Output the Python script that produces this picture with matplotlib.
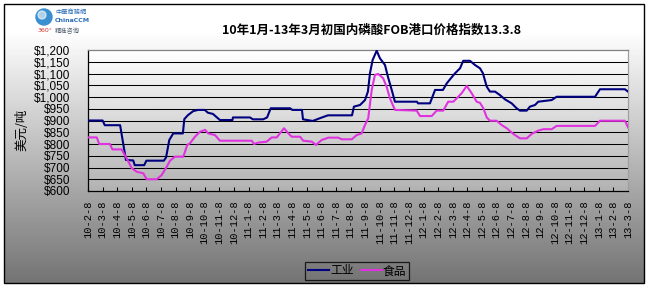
import matplotlib
matplotlib.use('Agg')
import matplotlib.pyplot as plt
from matplotlib.patches import Rectangle, Circle
import numpy as np

# month index: 0 = 10-2-8 ... 37 = 13-3-8
MONTH_LABELS = ['10-2-8', '10-3-8', '10-4-8', '10-5-8', '10-6-8', '10-7-8',
                '10-8-8', '10-9-8', '10-10-8', '10-11-8', '10-12-8',
                '11-1-8', '11-2-8', '11-3-8', '11-4-8', '11-5-8', '11-6-8',
                '11-7-8', '11-8-8', '11-9-8', '11-10-8', '11-11-8', '11-12-8',
                '12-1-8', '12-2-8', '12-3-8', '12-4-8', '12-5-8', '12-6-8',
                '12-7-8', '12-8-8', '12-9-8', '12-10-8', '12-11-8', '12-12-8',
                '13-1-8', '13-2-8', '13-3-8']

Y_TICKS = [600, 650, 700, 750, 800, 850, 900, 950, 1000, 1050, 1100, 1150, 1200]

# 工业 (industrial grade)
gy_x = [0, 1.0, 1.15, 2.2, 2.6, 3.1, 3.2, 3.85, 4.0, 5.2, 5.35, 5.57, 5.84,
        6.5, 6.6, 6.85, 7.21, 7.54, 8.0, 8.22, 8.56, 9.04, 9.9, 9.93, 11.1,
        11.3, 12.0, 12.27, 12.52, 13.85, 14.0, 14.66, 14.73, 15.4, 15.9,
        16.44, 18.09, 18.22, 18.64, 18.98, 19.18, 19.32, 19.5, 19.78, 20.0,
        20.35, 20.55, 20.81, 21.03, 22.54, 22.61, 23.43, 23.78, 24.32, 24.58,
        24.8, 25.15, 25.49, 25.71, 26.17, 26.52, 26.86, 27.06, 27.32, 27.54,
        27.89, 28.23, 28.57, 29.03, 29.37, 29.6, 30.06, 30.28, 30.63, 30.85,
        31.77, 32.11, 34.74, 35.08, 36.79, 37]
gy_v = [900, 900, 880, 880, 732, 730, 710, 710, 729, 729, 743, 817, 845,
        845, 906, 923, 940, 945, 945, 933, 928, 902, 902, 913, 913,
        905, 905, 913, 952, 952, 945, 945, 905, 898, 910,
        922, 922, 959, 966, 987, 1023, 1101, 1157, 1197, 1165,
        1136, 1086, 1030, 980, 980, 973, 973, 1030, 1030, 1058,
        1075, 1101, 1122, 1154, 1154, 1136, 1122, 1101, 1044, 1023,
        1023, 1008, 990, 973, 952, 942, 942, 959, 966, 980,
        987, 1001, 1001, 1033, 1033, 1023]

# 食品 (food grade)
sp_x = [0, 0.6, 0.77, 1.5, 1.67, 2.3, 2.65, 3.0, 3.34, 3.79, 4.02, 4.71,
        5.05, 5.39, 5.62, 5.96, 6.53, 6.8, 6.99, 7.33, 7.67, 8.02, 8.24, 8.7,
        9.04, 11.22, 11.37, 11.67, 12.24, 12.59, 12.93, 13.43, 13.73, 13.96,
        14.53, 14.75, 15.33, 15.62, 16.01, 16.47, 17.15, 17.38, 18.07, 18.41,
        18.75, 18.98, 19.2, 19.44, 19.66, 19.89, 20.22, 20.46, 20.69, 21.03,
        22.52, 22.75, 23.55, 23.89, 24.34, 24.68, 25.03, 25.37, 25.6, 25.95,
        26.29, 26.63, 26.86, 27.09, 27.32, 27.54, 28.0, 28.34, 28.69, 29.14,
        29.6, 30.06, 30.4, 30.85, 31.2, 31.77, 32.11, 34.74, 35.08, 36.79, 37]
sp_v = [828, 828, 800, 800, 777, 777, 739, 697, 682, 675, 650, 650,
        668, 703, 729, 746, 746, 796, 803, 831, 852, 860, 845, 838,
        814, 814, 800, 806, 810, 828, 828, 867, 845, 831,
        831, 814, 810, 796, 817, 827, 827, 820, 820, 838,
        845, 881, 909, 1030, 1094, 1098, 1080, 1044, 994, 945,
        942, 919, 919, 942, 942, 980, 980, 1001, 1016, 1047,
        1016, 980, 975, 952, 913, 899, 899, 881, 867, 843,
        824, 824, 843, 857, 863, 863, 877, 877, 899, 899, 871]

CJK = ['Noto Sans CJK SC', 'DejaVu Sans']
W, H = 651, 289

fig = plt.figure(figsize=(W / 100, H / 100), dpi=100)

# background with gradient, in pixel coordinates
bg = fig.add_axes([0, 0, 1, 1], zorder=-10)
bg.set_xlim(0, W)
bg.set_ylim(H, 0)
bg.axis('off')
img = np.ones((H, W))
rows = np.arange(H)
shade = np.clip(1.0 - 0.55 * (rows - 30) / 253.0, 0.45, 1.0)
img[4:283, 4:644] = shade[4:283, None]
bg.imshow(img, cmap='gray', vmin=0, vmax=1, extent=[0, W, H, 0],
          aspect='auto', interpolation='bilinear')
bg.add_patch(Rectangle((4, 4), 640, 279, fill=False, edgecolor='black', lw=1))

# logo
bg.add_patch(Circle((44, 17), 8, color='#3a8fd0'))
bg.add_patch(Circle((42, 15), 4, color='#ffffff', alpha=0.6))
bg.text(55, 12, '中華商務網', fontsize=4.5, color='#2a6cb8', family=CJK, va='center')
bg.text(55, 20, 'ChinaCCM', fontsize=4.5, color='#2a6cb8', weight='bold', va='center')
bg.text(38, 31, '360°', fontsize=4.5, color='#d03030', va='center')
bg.text(55, 31, '精准咨询', fontsize=4.5, color='#506070', family=CJK, va='center')

bg.text(372, 30, '10年1月-13年3月初国内磷酸FOB港口价格指数13.3.8',
        fontsize=9, weight='bold', family=CJK, ha='center', va='center')
bg.text(22, 130, '美元/吨', fontsize=9, family=CJK, rotation=90,
        ha='center', va='center')

ax = fig.add_axes([88 / W, 1 - 191 / H, 540 / W, 141 / H])
ax.set_facecolor('none')
pgrad = np.linspace(1.0, 0.70, 100)[:, None]
ax.imshow(pgrad, cmap='gray', vmin=0, vmax=1, extent=[0, 1, 0, 1],
          transform=ax.transAxes, aspect='auto', zorder=0)

for yv in Y_TICKS[1:-1]:
    ax.axhline(yv, color='black', lw=0.75, zorder=1)

ax.plot(gy_x, gy_v, color='#000080', lw=1.5, zorder=3, label='工业')
ax.plot(sp_x, sp_v, color='#e033e0', lw=1.5, zorder=3, label='食品')

ax.set_xlim(0, len(MONTH_LABELS) - 1)
ax.set_ylim(600, 1200)
ax.set_xticks(range(len(MONTH_LABELS)))
ax.set_xticklabels(MONTH_LABELS, rotation=90, va='top', ha='center',
                   fontsize=7.5, family=['Liberation Mono', 'DejaVu Sans Mono'])
ax.set_yticks(Y_TICKS)
ax.set_yticklabels(['$' + format(v, ',') for v in Y_TICKS], fontsize=8.5,
                   family=['Liberation Sans Narrow', 'Liberation Sans'])
ax.tick_params(axis='y', length=0, pad=13)
ax.tick_params(axis='x', direction='in', length=3, width=0.75, pad=7)

ax.spines['left'].set_color('black')
ax.spines['bottom'].set_color('black')
ax.spines['top'].set_color('#808080')
ax.spines['right'].set_color('#a0a0a0')
for s in ax.spines.values():
    s.set_linewidth(0.9)

leg = fig.legend(loc='center', bbox_to_anchor=(357 / W, 1 - 271 / H), ncol=2,
                 prop={'family': CJK, 'size': 8.5}, frameon=True, fancybox=False,
                 handlelength=1.8, handletextpad=0.1, columnspacing=0.6,
                 borderpad=0.2, borderaxespad=0)
leg.get_frame().set_edgecolor('black')
leg.get_frame().set_facecolor('none')
leg.get_frame().set_linewidth(0.9)

fig.savefig('out.png', dpi=100)
